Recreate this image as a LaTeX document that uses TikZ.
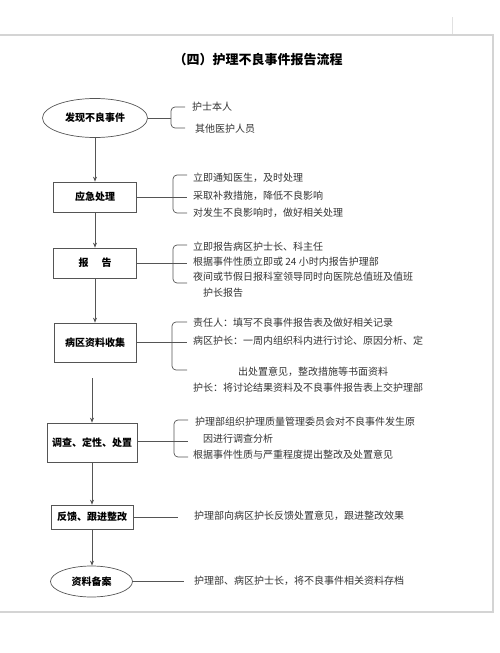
\documentclass[tikz,border=0pt]{standalone}
\usepackage{fontspec}
\setmainfont{Noto Sans CJK SC}
\newfontfamily\cjk{Noto Sans CJK SC}
\usetikzlibrary{shapes.geometric,arrows.meta}
\definecolor{ln}{HTML}{555555}
\definecolor{tx}{HTML}{333333}
\definecolor{frame}{HTML}{D4D4D4}
\tikzset{
  ln/.style={draw=ln, line width=0.7pt},
  arr/.style={ln, -{Stealth[length=5pt,width=4pt]}},
  boxn/.style={draw=ln, line width=0.7pt, rectangle, inner sep=0pt, font=\cjk\bfseries\fontsize{10}{12}\selectfont, text=black},
  elln/.style={draw=ln, line width=0.7pt, ellipse, inner sep=0pt, font=\cjk\bfseries\fontsize{10}{12}\selectfont, text=black},
  lbl/.style={anchor=west, inner sep=0pt, font=\cjk\fontsize{10}{12}\selectfont, text=tx},
  brk/.style={ln, rounded corners=4pt}
}
\begin{document}
\begin{tikzpicture}[x=1pt,y=-1pt]
\useasboundingbox (0,0) rectangle (500,653);
% page frame
\draw[frame, line width=1.2pt] (0,35) -- (493,35) -- (493,612) -- (0,612);
\draw[frame!70, line width=0.6pt] (452,17) -- (452,34);
% title
\node[font=\cjk\bfseries\fontsize{13}{15}\selectfont, text=black] (title) at (258,60) {（四）护理不良事件报告流程};
% main nodes
\node[elln, minimum width=105pt, minimum height=39pt] (e1) at (95,118) {发现不良事件};
\node[boxn, minimum width=83pt, minimum height=30pt] (b1) at (95,197) {应急处理};
\node[boxn, minimum width=83pt, minimum height=30pt] (b2) at (95,263) {报\hspace{1.3em}告};
\node[boxn, minimum width=82pt, minimum height=39pt] (b3) at (95,342.5) {病区资料收集};
\node[boxn, minimum width=90pt, minimum height=39pt] (b4) at (92,442.5) {调查、定性、处置};
\node[boxn, minimum width=82pt, minimum height=24pt] (b5) at (92,517) {反馈、跟进整改};
\node[elln, minimum width=82pt, minimum height=31pt] (e2) at (91.5,581.5) {资料备案};
% vertical arrows
\draw[arr] (e1.south) -- (b1.north);
\draw[arr] (b1.south) -- (b2.north);
\draw[arr] (b2.south) -- (b3.north);
\draw[arr] ([xshift=-3pt,yshift=-16pt]b3.south) -- (b4.north);
\draw[arr] (b4.south) -- (b5.north);
\draw[arr] (b5.south) -- ([xshift=0.5pt]e2.north);
% bracket 1
\coordinate (k1) at (171,118);
\draw[ln] (e1.east) -- (k1);
\draw[brk] (185,107) -- (171,107) -- (171,128) -- (185,128);
\node[lbl] (t11) at (192,107) {护士本人};
\node[lbl] (t12) at (195,129) {其他医护人员};
% bracket 2
\coordinate (k2) at (187,197);
\draw[ln] (b1.east) -- (k2);
\draw[brk] (187,175) -- (173,175) -- (173,213) -- (187,213);
\node[lbl] (t21) at (193,178) {立即通知医生，及时处理};
\node[lbl] (t22) at (193,196) {采取补救措施，降低不良影响};
\node[lbl] (t23) at (193,213) {对发生不良影响时，做好相关处理};
% bracket 3
\coordinate (k3) at (187,263);
\draw[ln] (b2.east) -- (k3);
\draw[brk] (187,245) -- (173,245) -- (173,283) -- (187,283);
\node[lbl] (t31) at (193,247) {立即报告病区护士长、科主任};
\node[lbl] (t32) at (193,262) {根据事件性质立即或 24 小时内报告护理部};
\node[lbl] (t33) at (193,277) {夜间或节假日报科室领导同时向医院总值班及值班};
\node[lbl] (t34) at (203,293) {护长报告};
% bracket 4
\coordinate (k4) at (187,342);
\draw[ln] (b3.east |- k4) -- (k4);
\draw[brk] (187,322) -- (172,322) -- (172,370) -- (187,370);
\node[lbl] (t41) at (193,323) {责任人：填写不良事件报告表及做好相关记录};
\node[lbl] (t42) at (193,341) {病区护长：一周内组织科内进行讨论、原因分析、定};
\node[lbl] (t43) at (238,372) {出处置意见，整改措施等书面资料};
\node[lbl] (t44) at (193,388) {护长：将讨论结果资料及不良事件报告表上交护理部};
% bracket 5
\coordinate (k5) at (188,441);
\draw[ln] (b4.east |- k5) -- (k5);
\draw[brk] (188,420) -- (174,420) -- (174,457) -- (188,457);
\node[lbl] (t51) at (195,422) {护理部组织护理质量管理委员会对不良事件发生原};
\node[lbl] (t52) at (203,439) {因进行调查分析};
\node[lbl] (t53) at (193,455) {根据事件性质与严重程度提出整改及处置意见};
% line 6
\coordinate (k6) at (178,517);
\draw[ln] (b5.east) -- (k6);
\node[lbl] (t61) at (194,516) {护理部向病区护长反馈处置意见，跟进整改效果};
% line 7
\coordinate (k7) at (184,581.5);
\draw[ln] (e2.east) -- (k7);
\node[lbl] (t71) at (194,581) {护理部、病区护士长，将不良事件相关资料存档};
\end{tikzpicture}
\end{document}
